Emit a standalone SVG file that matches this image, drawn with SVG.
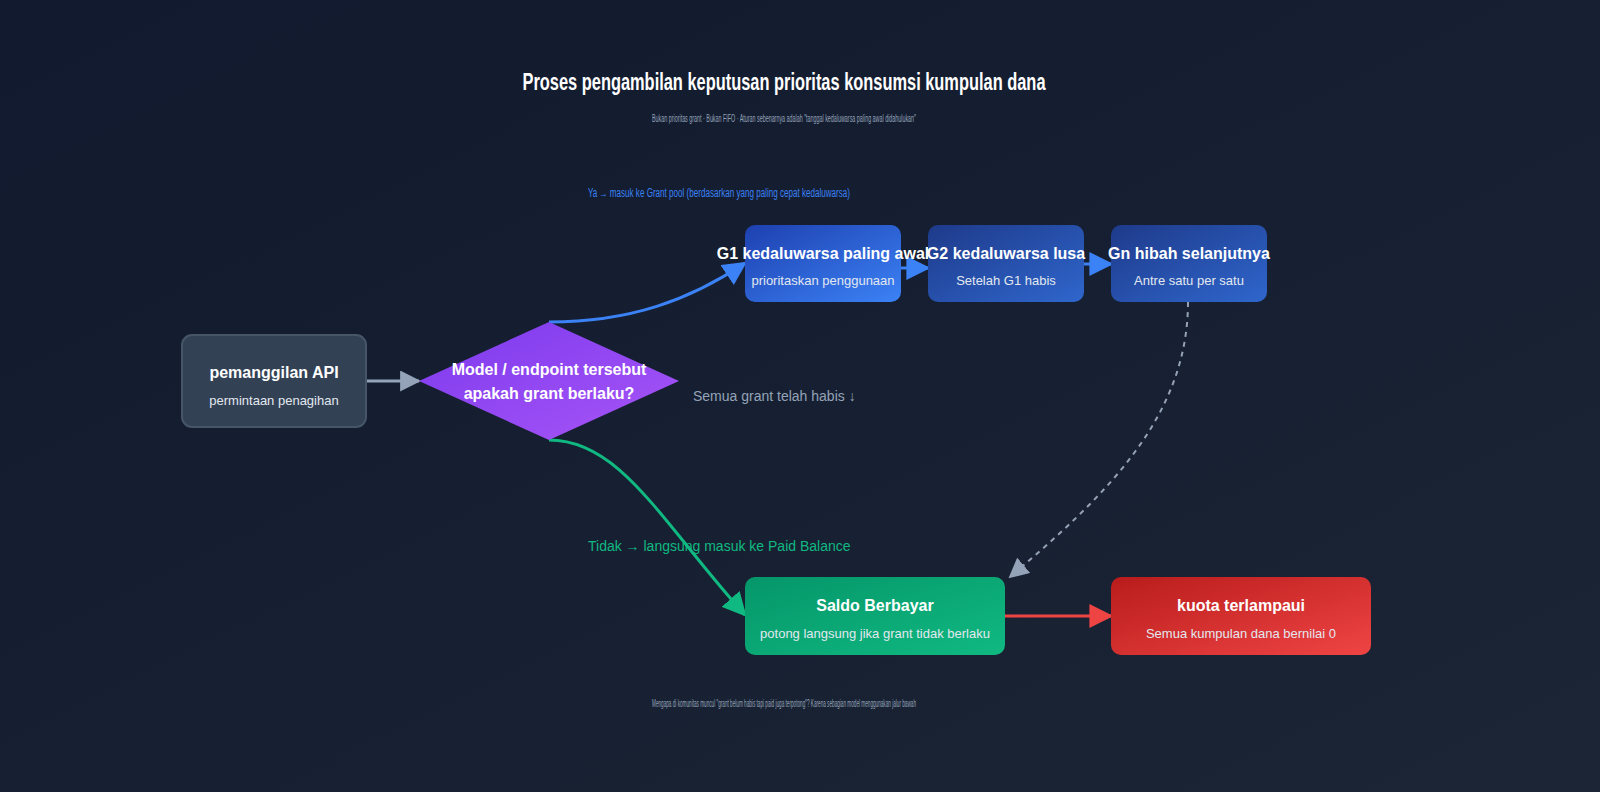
<svg xmlns="http://www.w3.org/2000/svg" width="1600" height="792" viewBox="0 0 1600 792">
<defs>
<linearGradient id="bg" x1="0" y1="0" x2="1" y2="1"><stop offset="0" stop-color="#111a2e"/><stop offset="1" stop-color="#1c2535"/></linearGradient>
<linearGradient id="gb" x1="0" y1="0" x2="1" y2="1"><stop offset="0" stop-color="#1e40af"/><stop offset="1" stop-color="#3b82f6"/></linearGradient>
<linearGradient id="gb2" x1="0" y1="0" x2="1" y2="1"><stop offset="0" stop-color="#1e3a8a"/><stop offset="1" stop-color="#2f66cc"/></linearGradient>
<linearGradient id="gp" x1="0" y1="0" x2="1" y2="1"><stop offset="0" stop-color="#7c3aed"/><stop offset="1" stop-color="#a855f7"/></linearGradient>
<linearGradient id="gg" x1="0" y1="0" x2="1" y2="1"><stop offset="0" stop-color="#059669"/><stop offset="1" stop-color="#10b981"/></linearGradient>
<linearGradient id="gr" x1="0" y1="0" x2="1" y2="1"><stop offset="0" stop-color="#b91c1c"/><stop offset="1" stop-color="#ef4444"/></linearGradient>
<marker id="mg" viewBox="0 0 10 10" refX="9" refY="5" markerWidth="7" markerHeight="7" orient="auto"><path d="M0,0L10,5L0,10z" fill="#94a3b8"/></marker>
<marker id="mb" viewBox="0 0 10 10" refX="9" refY="5" markerWidth="8" markerHeight="8" orient="auto"><path d="M0,0L10,5L0,10z" fill="#3b82f6"/></marker>
<marker id="mgr" viewBox="0 0 10 10" refX="9" refY="5" markerWidth="8" markerHeight="8" orient="auto"><path d="M0,0L10,5L0,10z" fill="#10b981"/></marker>
<marker id="mr" viewBox="0 0 10 10" refX="9" refY="5" markerWidth="8" markerHeight="8" orient="auto"><path d="M0,0L10,5L0,10z" fill="#ef4444"/></marker>
<marker id="ms" viewBox="0 0 10 10" refX="9" refY="5" markerWidth="10" markerHeight="10" orient="auto"><path d="M0,0L10,5L0,10z" fill="#94a3b8"/></marker>
</defs>
<style>
text{font-family:"Liberation Sans",Arial,sans-serif;text-anchor:middle}
.t{font-weight:bold;font-size:16px;fill:#fff}
.s{font-size:13px;fill:#e2e8f0}
</style>
<rect width="1600" height="792" fill="url(#bg)"/>
<text x="784" y="90" font-size="24" font-weight="bold" fill="#fff" textLength="523" lengthAdjust="spacingAndGlyphs">Proses pengambilan keputusan prioritas konsumsi kumpulan dana</text>
<text x="784" y="122" font-size="10" fill="#94a3b8" textLength="264" lengthAdjust="spacingAndGlyphs">Bukan prioritas grant · Bukan FIFO · Aturan sebenarnya adalah "tanggal kedaluwarsa paling awal didahulukan"</text>
<g id="connectors" fill="none" stroke-width="3">
<path d="M366,381H419" stroke="#94a3b8" marker-end="url(#mg)"/>
<path d="M549,322C630,322 690,300 745,263" stroke="#3b82f6" marker-end="url(#mb)"/>
<path d="M901,268H928" stroke="#3b82f6" marker-end="url(#mb)"/>
<path d="M1084,264H1111" stroke="#3b82f6" marker-end="url(#mb)"/>
<path d="M1188,302C1188,420 1100,500 1010,577" stroke="#94a3b8" stroke-width="2" stroke-dasharray="5,5" marker-end="url(#ms)"/>
<path d="M549,440C620,440 660,520 745,615" stroke="#10b981" marker-end="url(#mgr)"/>
<path d="M1005,616H1111" stroke="#ef4444" marker-end="url(#mr)"/>
</g>
<text x="588" y="197" font-size="12" fill="#3b82f6" style="text-anchor:start" textLength="262" lengthAdjust="spacingAndGlyphs">Ya → masuk ke Grant pool (berdasarkan yang paling cepat kedaluwarsa)</text>
<text x="693" y="401" font-size="14" fill="#94a3b8" style="text-anchor:start">Semua grant telah habis ↓</text>
<text x="588" y="551" font-size="14" fill="#10b981" style="text-anchor:start">Tidak → langsung masuk ke Paid Balance</text>
<g id="api"><rect x="182" y="335" width="184" height="92" rx="10" fill="#334155" stroke="#475569" stroke-width="2"/><text class="t" x="274" y="378">pemanggilan API</text><text class="s" x="274" y="405">permintaan penagihan</text></g>
<g id="decision"><polygon points="549,322 679,381 549,440 419,381" fill="url(#gp)"/><text class="t" x="549" y="375" font-size="15">Model / endpoint tersebut</text><text class="t" x="549" y="399" font-size="15">apakah grant berlaku?</text></g>
<g id="g1"><rect x="745" y="225" width="156" height="77" rx="10" fill="url(#gb)"/><text class="t" x="823" y="259">G1 kedaluwarsa paling awal</text><text class="s" x="823" y="285">prioritaskan penggunaan</text></g>
<g id="g2"><rect x="928" y="225" width="156" height="77" rx="10" fill="url(#gb2)"/><text class="t" x="1006" y="259">G2 kedaluwarsa lusa</text><text class="s" x="1006" y="285">Setelah G1 habis</text></g>
<g id="gn"><rect x="1111" y="225" width="156" height="77" rx="10" fill="url(#gb2)"/><text class="t" x="1189" y="259">Gn hibah selanjutnya</text><text class="s" x="1189" y="285">Antre satu per satu</text></g>
<g id="paid"><rect x="745" y="577" width="260" height="78" rx="10" fill="url(#gg)"/><text class="t" x="875" y="611">Saldo Berbayar</text><text class="s" x="875" y="638">potong langsung jika grant tidak berlaku</text></g>
<g id="quota"><rect x="1111" y="577" width="260" height="78" rx="10" fill="url(#gr)"/><text class="t" x="1241" y="611">kuota terlampaui</text><text class="s" x="1241" y="638">Semua kumpulan dana bernilai 0</text></g>
<text x="784" y="707" font-size="10" fill="#94a3b8" textLength="264" lengthAdjust="spacingAndGlyphs">Mengapa di komunitas muncul "grant belum habis tapi paid juga terpotong"? Karena sebagian model menggunakan jalur bawah</text>
</svg>
